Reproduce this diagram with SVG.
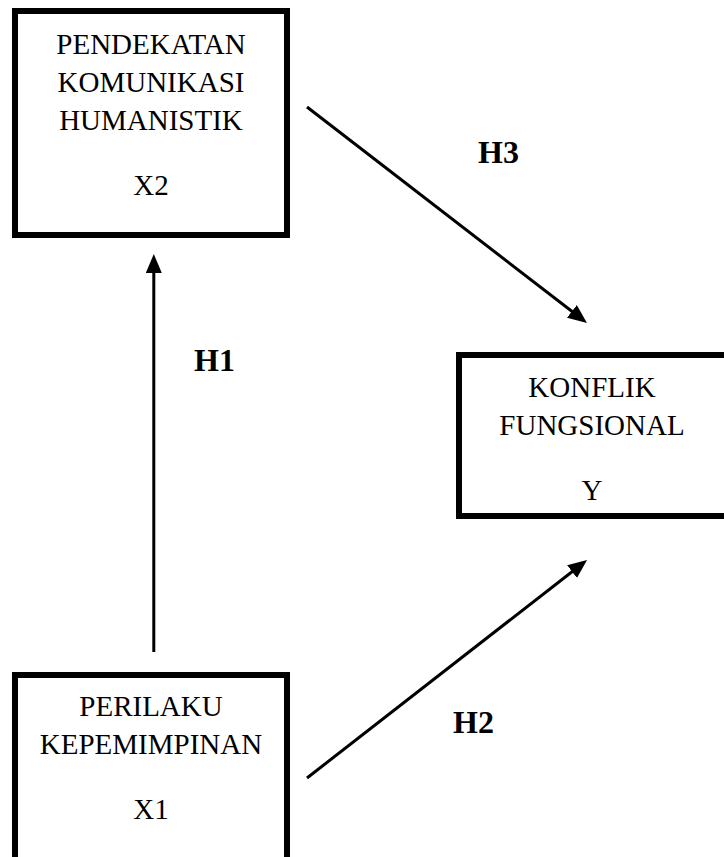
<svg xmlns="http://www.w3.org/2000/svg" width="724" height="857" viewBox="0 0 724 857">
<style>
.box{fill:#fff;stroke:#000;stroke-width:6}
.t{font-family:"Liberation Serif","Times New Roman",serif;font-size:29px;fill:#000;text-anchor:middle}
.h{font-family:"Liberation Serif","Times New Roman",serif;font-size:32px;font-weight:bold;fill:#000}
.c{stroke:#000;stroke-width:3;fill:none;marker-end:url(#ah)}
</style>
<defs>
<marker id="ah" markerUnits="userSpaceOnUse" markerWidth="20" markerHeight="16" refX="13" refY="8" orient="auto">
<path d="M0,0 L19,8 L0,16 z" fill="#000"/>
</marker>
</defs>
<rect width="724" height="857" fill="#fff"/>
<g id="connectors">
<line class="c" x1="153.8" y1="652" x2="153.8" y2="260"/>
<line class="c" x1="307" y1="107" x2="582.2" y2="319.3"/>
<line class="c" x1="307" y1="778" x2="582.3" y2="563.7"/>
<text class="h" x="194" y="371">H1</text>
<text class="h" x="478" y="163">H3</text>
<text class="h" x="453" y="733">H2</text>
</g>
<g id="x2">
<rect class="box" x="15" y="11" width="272" height="224"/>
<text class="t" x="151" y="54">PENDEKATAN</text>
<text class="t" x="151" y="92">KOMUNIKASI</text>
<text class="t" x="151" y="130">HUMANISTIK</text>
<text class="t" x="151" y="195">X2</text>
</g>
<g id="y">
<rect class="box" x="459" y="355" width="270" height="161"/>
<text class="t" x="592" y="397">KONFLIK</text>
<text class="t" x="592" y="435">FUNGSIONAL</text>
<text class="t" x="592" y="500">Y</text>
</g>
<g id="x1">
<rect class="box" x="15" y="675" width="272" height="190"/>
<text class="t" x="151" y="716">PERILAKU</text>
<text class="t" x="151" y="754">KEPEMIMPINAN</text>
<text class="t" x="151" y="819">X1</text>
</g>
</svg>
